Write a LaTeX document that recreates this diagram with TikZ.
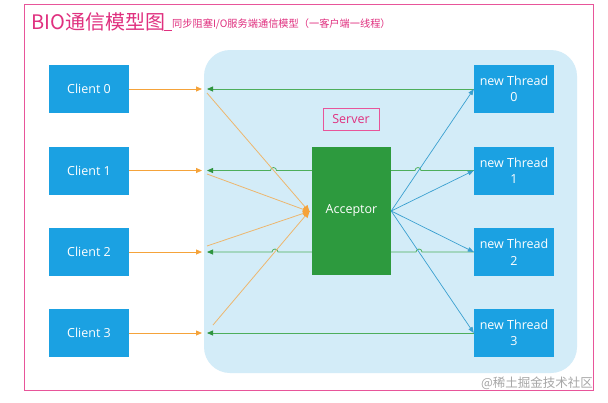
\documentclass[tikz,border=0pt]{standalone}
\usepackage{fontspec}
\setmainfont{Open Sans}
\newfontfamily\cjk{Noto Sans CJK SC}
\usetikzlibrary{arrows.meta}
\definecolor{cblue}{HTML}{1BA1E2}
\definecolor{agreen}{HTML}{2D9A3E}
\definecolor{srvbg}{HTML}{D3ECF8}
\definecolor{orng}{HTML}{F5A33A}
\definecolor{orngl}{HTML}{EDB66E}
\definecolor{glin}{HTML}{4DAE5B}
\definecolor{gtip}{HTML}{2F9440}
\definecolor{blin}{HTML}{3AA0D0}
\definecolor{pnk}{HTML}{E8559A}
\definecolor{ttl}{HTML}{E0307F}
\pgfdeclarelayer{bg}
\pgfdeclarelayer{lines}
\pgfsetlayers{bg,lines,main}
\tikzset{
  box/.style={fill=cblue, text=white, minimum width=80pt, minimum height=48pt, inner sep=0pt, align=center, font=\fontsize{12.5}{16.5}\selectfont},
  acc/.style={fill=agreen, text=white, minimum width=79pt, minimum height=128pt, inner sep=0pt, font=\fontsize{12.5}{15}\selectfont},
  oarr/.style={orng, line width=0.8pt, -{Triangle[length=6pt,width=5pt]}},
  olin/.style={orngl, line width=0.8pt, -{Triangle[length=7pt,width=6pt,color=orng]}, shorten >=-1pt},
  garr/.style={glin, line width=0.8pt, -{Triangle[length=6pt,width=5pt,color=gtip]}},
  barr/.style={blin, line width=0.7pt, -{Triangle[length=6pt,width=4.5pt]}},
}
\begin{document}
\begin{tikzpicture}[x=1pt,y=1pt]
\useasboundingbox (0,0) rectangle (608,-402);
\begin{pgfonlayer}{bg}
\fill[white] (0,0) rectangle (608,-402);
\fill[srvbg, rounded corners=26pt] (204,-50) rectangle (577,-373);
\end{pgfonlayer}
% frame
\draw[pnk, line width=0.8pt] (24,-4) rectangle (593,-390);
\node[anchor=west, inner sep=0pt, text=ttl, font=\cjk\fontsize{20}{21}\selectfont] (title) at (31,-22) {BIO通信模型图};
\draw[ttl, line width=0.6pt] (164,-30) -- (172,-30);
\node[anchor=west, inner sep=0pt, text=ttl, font=\cjk\fontsize{10.2}{11}\selectfont] (sub) at (172,-24) {同步阻塞I/O服务端通信模型（一客户端一线程）};
\node[draw=pnk, line width=0.8pt, text=ttl, minimum width=56pt, minimum height=22pt, inner sep=0pt, font=\fontsize{12.5}{14}\selectfont] (srv) at (351,-119) {Server};
% clients and threads
\foreach \i/\y in {0/89,1/170.5,2/252,3/333}{
  \node[box] (c\i) at (89,-\y) {Client \i};
  \node[box] (t\i) at (514,-\y) {new Thread\\\i};
  \coordinate (ci\i) at (202,-\y);
  \coordinate (go\i) at (207,-\y);
}
\node[acc] (acc) at (351.5,-211) {Acceptor};
\coordinate (hub) at (309,-211.5);
% orange client arrows
\foreach \i in {0,1,2,3}{ \draw[oarr] (c\i.east) -- (ci\i); }
% green return lines (behind acceptor)
\begin{pgfonlayer}{lines}
\draw[garr] (t0.west) -- (go0);
\draw[garr] (t3.west) -- (go3);
\draw[garr] (t1.west) -- (421,-170.5) arc[start angle=0,end angle=180,radius=3pt] -- (276.5,-170.5) arc[start angle=0,end angle=180,radius=3pt] -- (go1);
\draw[garr] (t2.west) -- (422,-252) arc[start angle=0,end angle=180,radius=3pt] -- (278,-252) arc[start angle=0,end angle=180,radius=3pt] -- (go2);
\end{pgfonlayer}
% orange converging lines
\coordinate (o0) at (207,-93);
\coordinate (o1) at (207,-174);
\coordinate (o2) at (207,-246);
\coordinate (o3) at (213,-325);
\foreach \i in {0,1,2,3}{ \draw[olin] (o\i) -- (hub); }
% blue lines
\foreach \i in {0,1,2,3}{ \draw[barr] (acc.east) -- (t\i.west); }
% watermark
\node[text=black!35, font=\cjk\fontsize{12.5}{13}\selectfont, inner sep=0pt] (wm) at (537,-383) {@稀土掘金技术社区};
\end{tikzpicture}
\end{document}
